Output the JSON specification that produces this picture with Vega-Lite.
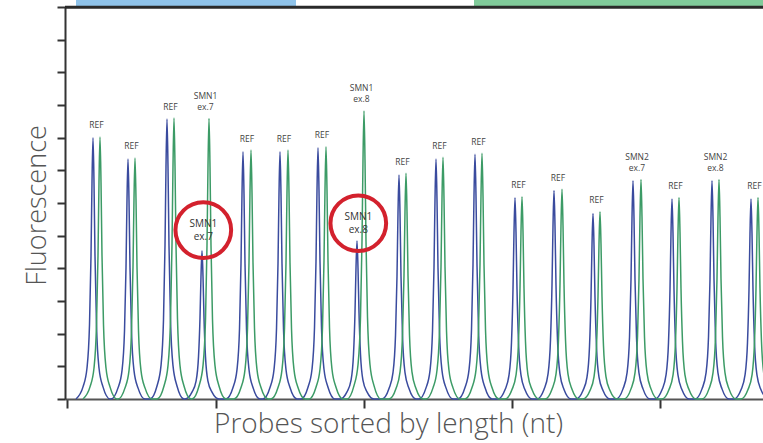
{
  "$schema": "https://vega.github.io/schema/vega-lite/v6.json",
  "width": 698,
  "height": 392,
  "autosize": {"type": "none"},
  "padding": {"left": 65, "top": 7, "right": 0, "bottom": 44},
  "background": "white",
  "view": {"stroke": null},
  "config": {
    "axis": {"domainColor": "#333333", "tickColor": "#333333", "domainWidth": 2, "tickWidth": 2, "grid": false, "labels": false}
  },
  "datasets": {
    "blue": [
      {"x":11,"y":0},{"x":18,"y":0.37},{"x":22,"y":0.95},{"x":24.5,"y":2.27},{"x":26,"y":4.38},{"x":27,"y":6.63},{"x":28,"y":8.0},{"x":29,"y":6.63},{"x":30,"y":4.38},{"x":31.5,"y":2.27},{"x":34,"y":0.95},{"x":38,"y":0.37},{"x":45,"y":0},
      {"x":46,"y":0},{"x":53,"y":0.34},{"x":57,"y":0.87},{"x":59.5,"y":2.08},{"x":61,"y":4.02},{"x":62,"y":6.09},{"x":63,"y":7.35},{"x":64,"y":6.09},{"x":65,"y":4.02},{"x":66.5,"y":2.08},{"x":69,"y":0.87},{"x":73,"y":0.34},{"x":80,"y":0},
      {"x":85,"y":0},{"x":92,"y":0.4},{"x":96,"y":1.02},{"x":98.5,"y":2.43},{"x":100,"y":4.69},{"x":101,"y":7.1},{"x":102,"y":8.57},{"x":103,"y":7.1},{"x":104,"y":4.69},{"x":105.5,"y":2.43},{"x":108,"y":1.02},{"x":112,"y":0.4},{"x":119,"y":0},
      {"x":120,"y":0},{"x":127,"y":0.21},{"x":131,"y":0.54},{"x":133.5,"y":1.29},{"x":135,"y":2.49},{"x":136,"y":3.76},{"x":137,"y":4.54},{"x":138,"y":3.76},{"x":139,"y":2.49},{"x":140.5,"y":1.29},{"x":143,"y":0.54},{"x":147,"y":0.21},{"x":154,"y":0},
      {"x":161,"y":0},{"x":168,"y":0.35},{"x":172,"y":0.9},{"x":174.5,"y":2.14},{"x":176,"y":4.14},{"x":177,"y":6.28},{"x":178,"y":7.57},{"x":179,"y":6.28},{"x":180,"y":4.14},{"x":181.5,"y":2.14},{"x":184,"y":0.9},{"x":188,"y":0.35},{"x":195,"y":0},
      {"x":198,"y":0},{"x":205,"y":0.35},{"x":209,"y":0.9},{"x":211.5,"y":2.14},{"x":213,"y":4.14},{"x":214,"y":6.28},{"x":215,"y":7.57},{"x":216,"y":6.28},{"x":217,"y":4.14},{"x":218.5,"y":2.14},{"x":221,"y":0.9},{"x":225,"y":0.35},{"x":232,"y":0},
      {"x":236,"y":0},{"x":243,"y":0.36},{"x":247,"y":0.91},{"x":249.5,"y":2.18},{"x":251,"y":4.21},{"x":252,"y":6.38},{"x":253,"y":7.69},{"x":254,"y":6.38},{"x":255,"y":4.21},{"x":256.5,"y":2.18},{"x":259,"y":0.91},{"x":263,"y":0.36},{"x":270,"y":0},
      {"x":275,"y":0},{"x":282,"y":0.22},{"x":286,"y":0.57},{"x":288.5,"y":1.37},{"x":290,"y":2.65},{"x":291,"y":4.01},{"x":292,"y":4.84},{"x":293,"y":4.01},{"x":294,"y":2.65},{"x":295.5,"y":1.37},{"x":298,"y":0.57},{"x":302,"y":0.22},{"x":309,"y":0},
      {"x":317,"y":0},{"x":324,"y":0.32},{"x":328,"y":0.81},{"x":330.5,"y":1.94},{"x":332,"y":3.76},{"x":333,"y":5.69},{"x":334,"y":6.86},{"x":335,"y":5.69},{"x":336,"y":3.76},{"x":337.5,"y":1.94},{"x":340,"y":0.81},{"x":344,"y":0.32},{"x":351,"y":0},
      {"x":354,"y":0},{"x":361,"y":0.34},{"x":365,"y":0.87},{"x":367.5,"y":2.08},{"x":369,"y":4.02},{"x":370,"y":6.09},{"x":371,"y":7.35},{"x":372,"y":6.09},{"x":373,"y":4.02},{"x":374.5,"y":2.08},{"x":377,"y":0.87},{"x":381,"y":0.34},{"x":388,"y":0},
      {"x":393,"y":0},{"x":400,"y":0.35},{"x":404,"y":0.89},{"x":406.5,"y":2.12},{"x":408,"y":4.1},{"x":409,"y":6.21},{"x":410,"y":7.49},{"x":411,"y":6.21},{"x":412,"y":4.1},{"x":413.5,"y":2.12},{"x":416,"y":0.89},{"x":420,"y":0.35},{"x":427,"y":0},
      {"x":433,"y":0},{"x":440,"y":0.28},{"x":444,"y":0.73},{"x":446.5,"y":1.74},{"x":448,"y":3.37},{"x":449,"y":5.11},{"x":450,"y":6.16},{"x":451,"y":5.11},{"x":452,"y":3.37},{"x":453.5,"y":1.74},{"x":456,"y":0.73},{"x":460,"y":0.28},{"x":467,"y":0},
      {"x":472,"y":0},{"x":479,"y":0.29},{"x":483,"y":0.76},{"x":485.5,"y":1.81},{"x":487,"y":3.49},{"x":488,"y":5.29},{"x":489,"y":6.38},{"x":490,"y":5.29},{"x":491,"y":3.49},{"x":492.5,"y":1.81},{"x":495,"y":0.76},{"x":499,"y":0.29},{"x":506,"y":0},
      {"x":511,"y":0},{"x":518,"y":0.26},{"x":522,"y":0.67},{"x":524.5,"y":1.61},{"x":526,"y":3.11},{"x":527,"y":4.71},{"x":528,"y":5.68},{"x":529,"y":4.71},{"x":530,"y":3.11},{"x":531.5,"y":1.61},{"x":534,"y":0.67},{"x":538,"y":0.26},{"x":545,"y":0},
      {"x":551,"y":0},{"x":558,"y":0.31},{"x":562,"y":0.79},{"x":564.5,"y":1.89},{"x":566,"y":3.66},{"x":567,"y":5.54},{"x":568,"y":6.68},{"x":569,"y":5.54},{"x":570,"y":3.66},{"x":571.5,"y":1.89},{"x":574,"y":0.79},{"x":578,"y":0.31},{"x":585,"y":0},
      {"x":590,"y":0},{"x":597,"y":0.28},{"x":601,"y":0.73},{"x":603.5,"y":1.73},{"x":605,"y":3.35},{"x":606,"y":5.07},{"x":607,"y":6.12},{"x":608,"y":5.07},{"x":609,"y":3.35},{"x":610.5,"y":1.73},{"x":613,"y":0.73},{"x":617,"y":0.28},{"x":624,"y":0},
      {"x":630,"y":0},{"x":637,"y":0.31},{"x":641,"y":0.79},{"x":643.5,"y":1.89},{"x":645,"y":3.66},{"x":646,"y":5.54},{"x":647,"y":6.68},{"x":648,"y":5.54},{"x":649,"y":3.66},{"x":650.5,"y":1.89},{"x":653,"y":0.79},{"x":657,"y":0.31},{"x":664,"y":0},
      {"x":669,"y":0},{"x":676,"y":0.28},{"x":680,"y":0.73},{"x":682.5,"y":1.73},{"x":684,"y":3.35},{"x":685,"y":5.07},{"x":686,"y":6.12},{"x":687,"y":5.07},{"x":688,"y":3.35},{"x":689.5,"y":1.73},{"x":692,"y":0.73},{"x":696,"y":0.28},{"x":703,"y":0}
    ],
    "green": [
      {"x":18,"y":0},{"x":25,"y":0.37},{"x":29,"y":0.95},{"x":31.5,"y":2.27},{"x":33,"y":4.39},{"x":34,"y":6.65},{"x":35,"y":8.02},{"x":36,"y":6.65},{"x":37,"y":4.39},{"x":38.5,"y":2.27},{"x":41,"y":0.95},{"x":45,"y":0.37},{"x":52,"y":0},
      {"x":53,"y":0},{"x":60,"y":0.34},{"x":64,"y":0.87},{"x":66.5,"y":2.09},{"x":68,"y":4.04},{"x":69,"y":6.12},{"x":70,"y":7.38},{"x":71,"y":6.12},{"x":72,"y":4.04},{"x":73.5,"y":2.09},{"x":76,"y":0.87},{"x":80,"y":0.34},{"x":87,"y":0},
      {"x":92,"y":0},{"x":99,"y":0.4},{"x":103,"y":1.02},{"x":105.5,"y":2.44},{"x":107,"y":4.71},{"x":108,"y":7.13},{"x":109,"y":8.6},{"x":110,"y":7.13},{"x":111,"y":4.71},{"x":112.5,"y":2.44},{"x":115,"y":1.02},{"x":119,"y":0.4},{"x":126,"y":0},
      {"x":127,"y":0},{"x":134,"y":0.4},{"x":138,"y":1.02},{"x":140.5,"y":2.43},{"x":142,"y":4.7},{"x":143,"y":7.12},{"x":144,"y":8.59},{"x":145,"y":7.12},{"x":146,"y":4.7},{"x":147.5,"y":2.43},{"x":150,"y":1.02},{"x":154,"y":0.4},{"x":161,"y":0},
      {"x":169,"y":0},{"x":176,"y":0.35},{"x":180,"y":0.9},{"x":182.5,"y":2.16},{"x":184,"y":4.17},{"x":185,"y":6.32},{"x":186,"y":7.62},{"x":187,"y":6.32},{"x":188,"y":4.17},{"x":189.5,"y":2.16},{"x":192,"y":0.9},{"x":196,"y":0.35},{"x":203,"y":0},
      {"x":206,"y":0},{"x":213,"y":0.35},{"x":217,"y":0.9},{"x":219.5,"y":2.16},{"x":221,"y":4.17},{"x":222,"y":6.32},{"x":223,"y":7.62},{"x":224,"y":6.32},{"x":225,"y":4.17},{"x":226.5,"y":2.16},{"x":229,"y":0.9},{"x":233,"y":0.35},{"x":240,"y":0},
      {"x":244,"y":0},{"x":251,"y":0.36},{"x":255,"y":0.91},{"x":257.5,"y":2.19},{"x":259,"y":4.23},{"x":260,"y":6.4},{"x":261,"y":7.72},{"x":262,"y":6.4},{"x":263,"y":4.23},{"x":264.5,"y":2.19},{"x":267,"y":0.91},{"x":271,"y":0.36},{"x":278,"y":0},
      {"x":282,"y":0},{"x":289,"y":0.41},{"x":293,"y":1.05},{"x":295.5,"y":2.5},{"x":297,"y":4.83},{"x":298,"y":7.31},{"x":299,"y":8.82},{"x":300,"y":7.31},{"x":301,"y":4.83},{"x":302.5,"y":2.5},{"x":305,"y":1.05},{"x":309,"y":0.41},{"x":316,"y":0},
      {"x":324,"y":0},{"x":331,"y":0.32},{"x":335,"y":0.82},{"x":337.5,"y":1.96},{"x":339,"y":3.78},{"x":340,"y":5.73},{"x":341,"y":6.91},{"x":342,"y":5.73},{"x":343,"y":3.78},{"x":344.5,"y":1.96},{"x":347,"y":0.82},{"x":351,"y":0.32},{"x":358,"y":0},
      {"x":361,"y":0},{"x":368,"y":0.34},{"x":372,"y":0.88},{"x":374.5,"y":2.1},{"x":376,"y":4.05},{"x":377,"y":6.13},{"x":378,"y":7.4},{"x":379,"y":6.13},{"x":380,"y":4.05},{"x":381.5,"y":2.1},{"x":384,"y":0.88},{"x":388,"y":0.34},{"x":395,"y":0},
      {"x":400,"y":0},{"x":407,"y":0.35},{"x":411,"y":0.89},{"x":413.5,"y":2.13},{"x":415,"y":4.12},{"x":416,"y":6.23},{"x":417,"y":7.52},{"x":418,"y":6.23},{"x":419,"y":4.12},{"x":420.5,"y":2.13},{"x":423,"y":0.89},{"x":427,"y":0.35},{"x":434,"y":0},
      {"x":440,"y":0},{"x":447,"y":0.29},{"x":451,"y":0.73},{"x":453.5,"y":1.75},{"x":455,"y":3.39},{"x":456,"y":5.13},{"x":457,"y":6.19},{"x":458,"y":5.13},{"x":459,"y":3.39},{"x":460.5,"y":1.75},{"x":463,"y":0.73},{"x":467,"y":0.29},{"x":474,"y":0},
      {"x":480,"y":0},{"x":487,"y":0.3},{"x":491,"y":0.76},{"x":493.5,"y":1.82},{"x":495,"y":3.51},{"x":496,"y":5.32},{"x":497,"y":6.42},{"x":498,"y":5.32},{"x":499,"y":3.51},{"x":500.5,"y":1.82},{"x":503,"y":0.76},{"x":507,"y":0.3},{"x":514,"y":0},
      {"x":518,"y":0},{"x":525,"y":0.26},{"x":529,"y":0.68},{"x":531.5,"y":1.62},{"x":533,"y":3.14},{"x":534,"y":4.75},{"x":535,"y":5.73},{"x":536,"y":4.75},{"x":537,"y":3.14},{"x":538.5,"y":1.62},{"x":541,"y":0.68},{"x":545,"y":0.26},{"x":552,"y":0},
      {"x":559,"y":0},{"x":566,"y":0.31},{"x":570,"y":0.8},{"x":572.5,"y":1.9},{"x":574,"y":3.68},{"x":575,"y":5.57},{"x":576,"y":6.72},{"x":577,"y":5.57},{"x":578,"y":3.68},{"x":579.5,"y":1.9},{"x":582,"y":0.8},{"x":586,"y":0.31},{"x":593,"y":0},
      {"x":597,"y":0},{"x":604,"y":0.29},{"x":608,"y":0.73},{"x":610.5,"y":1.75},{"x":612,"y":3.38},{"x":613,"y":5.11},{"x":614,"y":6.17},{"x":615,"y":5.11},{"x":616,"y":3.38},{"x":617.5,"y":1.75},{"x":620,"y":0.73},{"x":624,"y":0.29},{"x":631,"y":0},
      {"x":637,"y":0},{"x":644,"y":0.31},{"x":648,"y":0.8},{"x":650.5,"y":1.9},{"x":652,"y":3.68},{"x":653,"y":5.57},{"x":654,"y":6.72},{"x":655,"y":5.57},{"x":656,"y":3.68},{"x":657.5,"y":1.9},{"x":660,"y":0.8},{"x":664,"y":0.31},{"x":671,"y":0},
      {"x":676,"y":0},{"x":683,"y":0.29},{"x":687,"y":0.73},{"x":689.5,"y":1.75},{"x":691,"y":3.38},{"x":692,"y":5.11},{"x":693,"y":6.17},{"x":694,"y":5.11},{"x":695,"y":3.38},{"x":696.5,"y":1.75},{"x":699,"y":0.73},{"x":703,"y":0.29},{"x":710,"y":0}
    ],
    "labels": [
      {"x":31.5,"y":8.22,"t":"REF"},
      {"x":66.5,"y":7.58,"t":"REF"},
      {"x":105.5,"y":8.8,"t":"REF"},
      {"x":140.5,"y":9.13,"t":"SMN1\nex.7"},
      {"x":182,"y":7.82,"t":"REF"},
      {"x":219,"y":7.82,"t":"REF"},
      {"x":257,"y":7.92,"t":"REF"},
      {"x":296.5,"y":9.36,"t":"SMN1\nex.8"},
      {"x":337.5,"y":7.11,"t":"REF"},
      {"x":374.5,"y":7.6,"t":"REF"},
      {"x":413.5,"y":7.72,"t":"REF"},
      {"x":453.5,"y":6.39,"t":"REF"},
      {"x":493,"y":6.62,"t":"REF"},
      {"x":531.5,"y":5.93,"t":"REF"},
      {"x":572,"y":7.26,"t":"SMN2\nex.7"},
      {"x":610.5,"y":6.37,"t":"REF"},
      {"x":650.5,"y":7.26,"t":"SMN2\nex.8"},
      {"x":689.5,"y":6.37,"t":"REF"}
    ],
    "circles": [
      {"x":138.3,"y":5.17,"t":"SMN1\nex.7"},
      {"x":293.3,"y":5.38,"t":"SMN1\nex.8"}
    ],
    "bars": [
      {"x":11,"x2":231,"y":12.02,"y2":12.26,"c":"b"},
      {"x":409,"x2":720,"y":12.02,"y2":12.26,"c":"g"},
      {"x":0,"x2":720,"y":11.95,"y2":12.04,"c":"k"}
    ]
  },
  "encoding": {
    "x": {"field": "x", "type": "quantitative", "scale": {"domain": [0, 698], "nice": false, "zero": false},
      "axis": {"values": [2, 151, 299, 447, 595], "tickCount": 30, "tickSize": 9, "domainColor": "#555555", "title": "Probes sorted by length (nt)", "titleFont": "Open Sans", "titleFontSize": 28, "titleFontWeight": 300, "titleColor": "#555555", "titleX": 323, "titleY": 33, "titleBaseline": "alphabetic", "titleAlign": "center"}},
    "y": {"field": "y", "type": "quantitative", "scale": {"domain": [0, 12], "nice": false, "zero": true},
      "axis": {"values": [0,1,2,3,4,5,6,7,8,9,10,11,12], "tickCount": 30, "tickSize": 8, "title": "Fluorescence", "titleFont": "Open Sans", "titleFontSize": 27, "titleFontWeight": 300, "titleColor": "#555555", "titleX": -28, "titleY": 198, "titleAngle": -90, "titleBaseline": "middle", "titleAlign": "center"}}
  },
  "layer": [
    {
      "data": {"name": "bars"},
      "mark": {"type": "rect"},
      "encoding": {
        "x2": {"field": "x2"},
        "y2": {"field": "y2"},
        "color": {"field": "c", "type": "nominal", "scale": {"domain": ["b", "g", "k"], "range": ["#8fc3ea", "#80cb9a", "#2a2a2a"]}, "legend": null}
      }
    },
    {
      "data": {"name": "blue"},
      "mark": {"type": "line", "interpolate": "monotone", "color": "#3a4b9e", "strokeWidth": 1.5}
    },
    {
      "data": {"name": "green"},
      "mark": {"type": "line", "interpolate": "monotone", "color": "#3c9b66", "strokeWidth": 1.5}
    },
    {
      "data": {"name": "labels"},
      "mark": {"type": "text", "font": "Open Sans", "fontSize": 8.5, "color": "#444444", "baseline": "bottom", "align": "center", "lineBreak": "\n", "lineHeight": 11},
      "encoding": {
        "text": {"field": "t"}
      }
    },
    {
      "data": {"name": "circles"},
      "mark": {"type": "point", "shape": "circle", "filled": false, "size": 3100, "color": "#d3212d", "strokeWidth": 4, "opacity": 1}
    },
    {
      "data": {"name": "circles"},
      "mark": {"type": "text", "font": "Open Sans", "fontSize": 10, "color": "#333333", "baseline": "middle", "align": "center", "lineBreak": "\n", "lineHeight": 13, "dy": -6.5},
      "encoding": {
        "text": {"field": "t"}
      }
    }
  ]
}
